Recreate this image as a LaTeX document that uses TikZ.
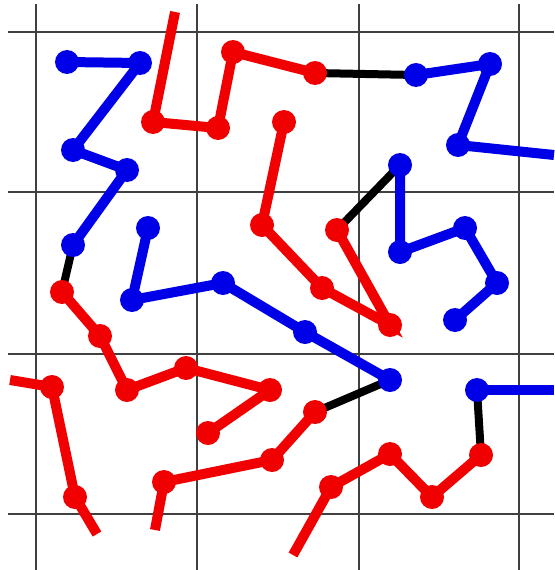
\documentclass[tikz,border=0pt]{standalone}
\usepackage{tikz}

\definecolor{chainred}{RGB}{240,0,0}
\definecolor{chainblue}{RGB}{0,0,232}

\begin{document}
\begin{tikzpicture}[
			x=1pt, y=-1pt,
			gridline/.style={
				draw=black!75,
				line width=1.4pt
			},
			redchain/.style={
				draw=chainred,
				line width=10pt
			},
			bluechain/.style={
				draw=chainblue,
				line width=10pt
			},
			crosslink/.style={
				draw=black,
				line width=8pt
			},
			reddot/.style={fill=chainred},
			bluedot/.style={fill=chainblue}
			]
			\useasboundingbox (0,0) rectangle (554,570);
			\fill[white] (0,0) rectangle (554,570);
			
			\foreach \gx in {36,197,359,519}
				\draw[gridline] (\gx,4) -- (\gx,570);
			\foreach \gy in {32,192,354,514}
				\draw[gridline] (8,\gy) -- (554,\gy);
			
			% top left blue chain and the red one below it
			\coordinate (ba1) at (67,62);
			\coordinate (ba2) at (140,63);
			\coordinate (ba3) at (73,150);
			\coordinate (ba4) at (127,170);
			\coordinate (ba5) at (73,245);
			\coordinate (ra1) at (62,292);
			\coordinate (ra2) at (100,336);
			\coordinate (ra3) at (127,390);
			\coordinate (ra4) at (186,368);
			\coordinate (ra5) at (270,390);
			\coordinate (ra6) at (208,433);
			
			% loose red chains at the bottom left
			\coordinate (rb0) at (10,380);
			\coordinate (rb1) at (52,387);
			\coordinate (rb2) at (75,497);
			\coordinate (rb3) at (97,534);
			\coordinate (rc0) at (155,530);
			\coordinate (rc1) at (164,482);
			\coordinate (rc2) at (272,460);
			\coordinate (rc3) at (315,412);
			
			% middle blue chain
			\coordinate (bb1) at (148,228);
			\coordinate (bb2) at (132,300);
			\coordinate (bb3) at (223,283);
			\coordinate (bb4) at (305,332);
			\coordinate (bb5) at (390,380);
			
			% bottom right
			\coordinate (rd0) at (293,555);
			\coordinate (rd1) at (331,487);
			\coordinate (rd2) at (390,454);
			\coordinate (rd3) at (432,497);
			\coordinate (rd4) at (481,455);
			\coordinate (bc1) at (477,390);
			\coordinate (bc0) at (554,390);
			
			% top chain
			\coordinate (re0) at (175,12);
			\coordinate (re1) at (153,122);
			\coordinate (re2) at (218,128);
			\coordinate (re3) at (233,52);
			\coordinate (re4) at (315,73);
			\coordinate (bd1) at (416,75);
			\coordinate (bd2) at (490,64);
			\coordinate (bd3) at (458,145);
			\coordinate (bd0) at (554,155);
			
			% centre right
			\coordinate (rf1) at (284,122);
			\coordinate (rf2) at (262,225);
			\coordinate (rf3) at (322,288);
			\coordinate (rf4) at (390,325);
			\coordinate (rf5) at (337,230);
			\coordinate (be1) at (400,165);
			\coordinate (be2) at (400,252);
			\coordinate (be3) at (465,228);
			\coordinate (be4) at (497,283);
			\coordinate (be5) at (455,320);
			
			\draw[crosslink] (ba5) -- (ra1);
			\draw[crosslink] (rc3) -- (bb5);
			\draw[crosslink] (rd4) -- (bc1);
			\draw[crosslink] (re4) -- (bd1);
			\draw[crosslink] (rf5) -- (be1);
			
			\draw[bluechain] (ba1) -- (ba2) -- (ba3) -- (ba4) -- (ba5);
			\draw[bluechain] (bb1) -- (bb2) -- (bb3) -- (bb4) -- (bb5);
			\draw[bluechain] (bc1) -- (bc0);
			\draw[bluechain] (bd1) -- (bd2) -- (bd3) -- (bd0);
			\draw[bluechain] (be1) -- (be2) -- (be3) -- (be4) -- (be5);
			
			\draw[redchain] (ra1) -- (ra2) -- (ra3) -- (ra4) -- (ra5) -- (ra6);
			\draw[redchain] (rb0) -- (rb1) -- (rb2) -- (rb3);
			\draw[redchain] (rc0) -- (rc1) -- (rc2) -- (rc3);
			\draw[redchain] (rd0) -- (rd1) -- (rd2) -- (rd3) -- (rd4);
			\draw[redchain] (re0) -- (re1) -- (re2) -- (re3) -- (re4);
			\draw[redchain] (rf1) -- (rf2) -- (rf3) -- (rf4) -- (rf5);
			
			\foreach \bead in {ba1,ba2,ba3,ba4,ba5,bb1,bb2,bb3,bb4,bb5,bc1,
				bd1,bd2,bd3,be1,be2,be3,be4,be5}
				\fill[bluedot] (\bead) circle (12pt);
			\foreach \bead in {ra1,ra2,ra3,ra4,ra5,ra6,rb1,rb2,rc1,rc2,rc3,
				rd1,rd2,rd3,rd4,re1,re2,re3,re4,rf1,rf2,rf3,rf4,rf5}
				\fill[reddot] (\bead) circle (12pt);
		\end{tikzpicture}
\end{document}
